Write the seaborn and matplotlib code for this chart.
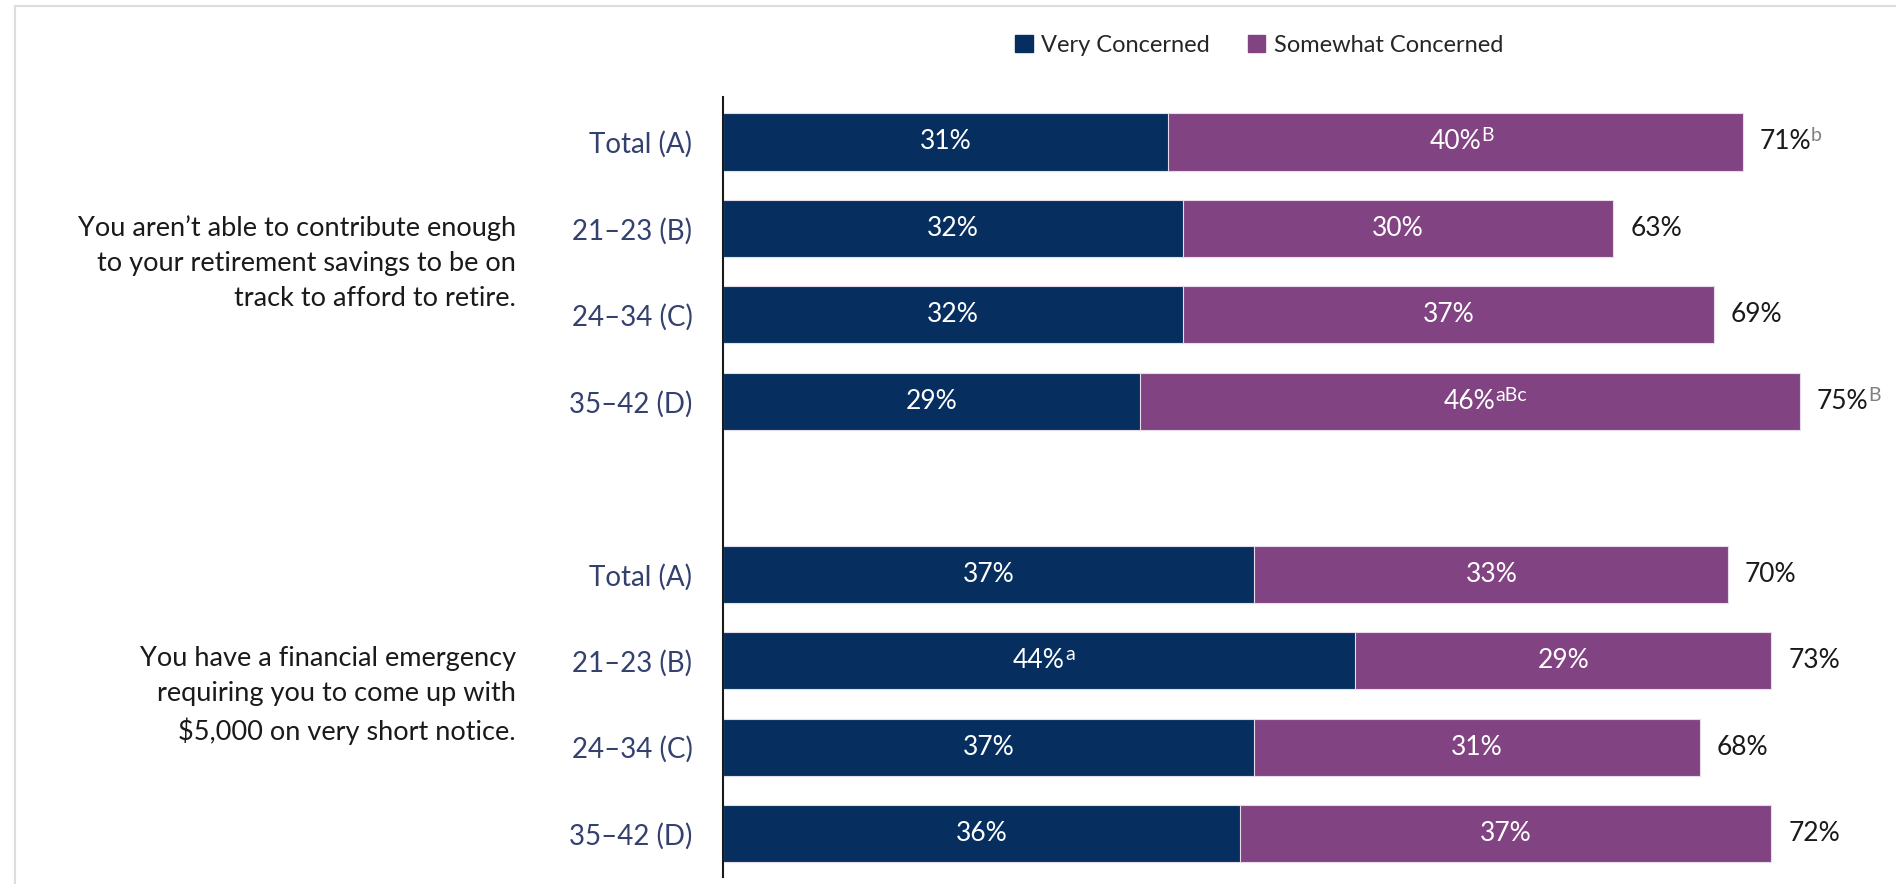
import matplotlib
matplotlib.use("Agg")
import matplotlib.pyplot as plt
from matplotlib.patches import Patch, Rectangle
import seaborn as sns
import pandas as pd

# ---- data ----
questions = [
    "You aren\u2019t able to contribute enough\nto your retirement savings to be on\ntrack to afford to retire.",
    "You have a financial emergency\nrequiring you to come up with\n$5,000 on very short notice.",
]
groups = ["Total (A)", "21\u201323 (B)", "24\u201334 (C)", "35\u201342 (D)"]
very_q1 = [31, 32, 32, 29]
somewhat_q1 = [40, 30, 37, 46]
total_q1 = [71, 63, 69, 75]
very_q2 = [37, 44, 37, 36]
somewhat_q2 = [33, 29, 31, 37]
total_q2 = [70, 73, 68, 72]
# significance letters shown as superscripts
very_sig_q1 = ["", "", "", ""]
somewhat_sig_q1 = ["B", "", "", "aBc"]
total_sig_q1 = ["b", "", "", "B"]
very_sig_q2 = ["", "a", "", ""]
somewhat_sig_q2 = ["", "", "", ""]
total_sig_q2 = ["", "", "", ""]
series_names = ["Very Concerned", "Somewhat Concerned"]

NAVY = "#062F5F"
PURPLE = "#824383"
TICK_COLOR = "#34406E"
TEXT_COLOR = "#1A1A1A"
SUP_GRAY = "#7F7F7F"

sns.set_theme(style="white")
plt.rcParams["font.family"] = ["Lato", "DejaVu Sans"]

# build one row per bar; a blank slot separates the two questions
keys_q1 = [f"q1_{i}" for i in range(len(groups))]
keys_q2 = [f"q2_{i}" for i in range(len(groups))]
order = keys_q1 + ["gap"] + keys_q2
df = pd.DataFrame({
    "row": keys_q1 + keys_q2,
    "very": very_q1 + very_q2,
    "somewhat": somewhat_q1 + somewhat_q2,
    "total": total_q1 + total_q2,
    "very_sig": very_sig_q1 + very_sig_q2,
    "somewhat_sig": somewhat_sig_q1 + somewhat_sig_q2,
    "total_sig": total_sig_q1 + total_sig_q2,
})
df["stack_end"] = df["very"] + df["somewhat"]
df["pos"] = [order.index(k) for k in df["row"]]

fig = plt.figure(figsize=(18.96, 8.84), dpi=100)
ax = fig.add_axes([723 / 1896, 7 / 884, (1872 - 723) / 1896, (877 - 97) / 884])

bar_kw = dict(orient="h", order=order, width=0.66, errorbar=None,
              saturation=1, edgecolor="#E6DCEA", linewidth=0.8, ax=ax)
sns.barplot(data=df, x="stack_end", y="row", color=PURPLE, **bar_kw)
sns.barplot(data=df, x="very", y="row", color=NAVY, **bar_kw)

ax.set_xlim(0, 80)
ax.set_ylim(8.5, -0.52)
ax.set_xlabel("")
ax.set_ylabel("")
ax.set_xticks([])
ax.set_yticks(range(len(order)))
tick_labels = []
for k in order:
    tick_labels.append("" if k == "gap" else groups[int(k.split("_")[1])])
ax.set_yticklabels(tick_labels, fontsize=20, color=TICK_COLOR)
ax.tick_params(axis="y", length=0, pad=22)
for s in ["top", "right", "bottom"]:
    ax.spines[s].set_visible(False)
ax.spines["left"].set_color("#1A1A1A")
ax.spines["left"].set_linewidth(1.5)


def add_sup(txt, sup, color, size):
    if sup:
        ax.annotate(sup, xy=(1.0, 0.52), xycoords=txt, ha="left", va="baseline",
                    fontsize=size, color=color)


for _, r in df.iterrows():
    y = r["pos"]
    t = ax.text(r["very"] / 2, y, f"{r['very']}%", ha="center", va="center",
                fontsize=19, color="white")
    add_sup(t, r["very_sig"], "white", 14)
    t = ax.text(r["very"] + r["somewhat"] / 2, y, f"{r['somewhat']}%",
                ha="center", va="center", fontsize=19, color="white")
    add_sup(t, r["somewhat_sig"], "white", 14)
    t = ax.annotate(f"{r['total']}%", xy=(r["stack_end"], y), xytext=(12, 0),
                    textcoords="offset points", ha="left", va="center",
                    fontsize=19, color=TEXT_COLOR)
    add_sup(t, r["total_sig"], SUP_GRAY, 14)

# question text to the left of each group
for q, centre in zip(questions, [1.5, 6.5]):
    ax.text(-207 / 14.36, centre - 0.1, q, ha="right", va="center",
            fontsize=19.5, color=TEXT_COLOR, linespacing=1.5)

handles = [Patch(facecolor=NAVY, edgecolor=NAVY),
           Patch(facecolor=PURPLE, edgecolor=PURPLE)]
fig.legend(handles, series_names, loc="center", bbox_to_anchor=(1259 / 1896, 1 - 45 / 884),
           ncol=2, frameon=False, fontsize=17, handlelength=0.75, handleheight=0.75,
           handletextpad=0.35, columnspacing=1.6)

# light frame along the top and left edges
fig.patches.append(Rectangle((15 / 1896, -0.1), 2.0, 1.1 - 6 / 884, transform=fig.transFigure,
                             fill=False, edgecolor="#DDDDDD", linewidth=1.5))

fig.savefig("out.png", dpi=100)
